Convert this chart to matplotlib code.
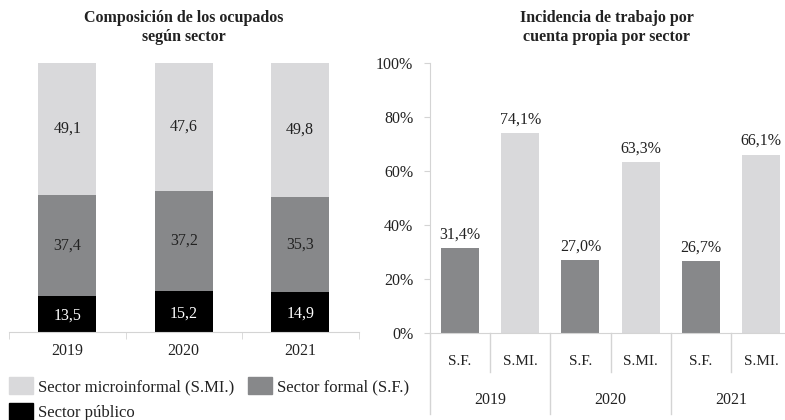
import matplotlib.pyplot as plt
import matplotlib.patches as mpatches
import matplotlib.transforms as mtransforms
import numpy as np

plt.rcParams['font.family'] = ['Liberation Serif', 'DejaVu Serif']
plt.rcParams['font.size'] = 11.5

# ── Datos ────────────────────────────────────
years = ['2019', '2020', '2021']
publico = [13.5, 15.2, 14.9]
formal = [37.4, 37.2, 35.3]
micro = [49.1, 47.6, 49.8]

sectors = ['S.F.', 'S.MI.']
incid_sf = [31.4, 27.0, 26.7]
incid_smi = [74.1, 63.3, 66.1]

C_MICRO = '#d9d9db'
C_FORMAL = '#87888a'
C_PUB = '#000000'
C_AXIS = '#d4d4d4'
C_TEXT = '#222222'
FS = 11.5

fig = plt.figure(figsize=(7.85, 4.2), dpi=100)

# ── Panel izquierdo: composición ────────────
ax1 = fig.add_axes([9/785, 88/420, 349.5/785, 269/420])
x = np.arange(len(years))
w = 0.5
ax1.bar(x, publico, w, color=C_PUB)
ax1.bar(x, formal, w, bottom=publico, color=C_FORMAL)
bot2 = np.array(publico) + np.array(formal)
ax1.bar(x, micro, w, bottom=bot2, color=C_MICRO)

for i in range(len(years)):
    ax1.text(x[i], publico[i] / 2 - 0.8, f'{publico[i]:.1f}'.replace('.', ','),
             ha='center', va='center', color='white', fontsize=FS)
    ax1.text(x[i], publico[i] + formal[i] / 2, f'{formal[i]:.1f}'.replace('.', ','),
             ha='center', va='center', color=C_TEXT, fontsize=FS)
    ax1.text(x[i], bot2[i] + micro[i] / 2, f'{micro[i]:.1f}'.replace('.', ','),
             ha='center', va='center', color=C_TEXT, fontsize=FS)

ax1.set_xlim(-0.5, 2.5)
ax1.set_ylim(0, 100)
for s in ['top', 'right', 'left']:
    ax1.spines[s].set_visible(False)
ax1.spines['bottom'].set_color(C_AXIS)
ax1.set_yticks([])
ax1.set_xticks(x)
ax1.set_xticklabels(years, color=C_TEXT, fontsize=FS)
ax1.tick_params(axis='x', which='major', length=0, pad=8)
ax1.set_xticks([-0.5, 0.5, 1.5, 2.5], minor=True)
ax1.tick_params(axis='x', which='minor', length=5, color=C_AXIS)
ax1.set_title('Composición de los ocupados\nsegún sector', fontsize=11.5,
              fontweight='bold', color=C_TEXT, pad=16, linespacing=1.25)

# ── Panel derecho: incidencia ───────────────
ax2 = fig.add_axes([430/785, 87/420, 361/785, 270/420])
pos_sf = np.arange(len(years)) * 2
pos_smi = pos_sf + 1
bw = 0.63
ax2.bar(pos_sf, np.array(incid_sf) / 100, bw, color=C_FORMAL)
ax2.bar(pos_smi, np.array(incid_smi) / 100, bw, color=C_MICRO)
for p, v in list(zip(pos_sf, incid_sf)) + list(zip(pos_smi, incid_smi)):
    ax2.annotate(f'{v:.1f}%'.replace('.', ','), (p, v / 100), xytext=(0, 4),
                 textcoords='offset points', ha='center', va='bottom',
                 color=C_TEXT, fontsize=FS)

ax2.set_xlim(-0.5, 5.5)
ax2.set_ylim(0, 1)
ax2.set_yticks(np.arange(0, 1.01, 0.2))
ax2.set_yticklabels([f'{int(round(t*100))}%' for t in np.arange(0, 1.01, 0.2)],
                    color=C_TEXT, fontsize=FS)
ax2.tick_params(axis='y', length=4, color=C_AXIS, pad=8)
ax2.set_xticks([])
for s in ['top', 'right']:
    ax2.spines[s].set_visible(False)
ax2.spines['left'].set_color(C_AXIS)
ax2.spines['bottom'].set_color(C_AXIS)

# etiquetas de dos niveles
trans = mtransforms.blended_transform_factory(ax2.transData, ax2.transAxes)
for g in range(len(years)):
    ax2.text(pos_sf[g], -0.105, sectors[0], transform=trans, ha='center', va='center',
             color=C_TEXT, fontsize=11)
    ax2.text(pos_smi[g], -0.105, sectors[1], transform=trans, ha='center', va='center',
             color=C_TEXT, fontsize=11)
    ax2.text(pos_sf[g] + 0.5, -0.25, years[g], transform=trans, ha='center', va='center',
             color=C_TEXT, fontsize=FS)
    ax2.plot([pos_sf[g] + 0.5] * 2, [0, -0.145], transform=trans, color=C_AXIS,
             lw=1, clip_on=False)
    ax2.plot([pos_sf[g] - 0.5] * 2, [0, -0.3], transform=trans, color=C_AXIS,
             lw=1, clip_on=False)

ax2.set_title('Incidencia de trabajo por\ncuenta propia por sector', fontsize=11.5,
              fontweight='bold', color=C_TEXT, pad=16, linespacing=1.25, x=0.49)

# ── Leyenda ──────────────────────────────────
h_micro = mpatches.Patch(color=C_MICRO, label='Sector microinformal (S.MI.)')
h_formal = mpatches.Patch(color=C_FORMAL, label='Sector formal (S.F.)')
h_pub = mpatches.Patch(color=C_PUB, label='Sector público')
fig.legend(handles=[h_micro, h_pub, h_formal], ncol=2, loc='upper left',
           bbox_to_anchor=(9/785, 1 - 377/420), frameon=False, fontsize=12,
           handlelength=1.45, handleheight=1.2, handletextpad=0.3,
           columnspacing=0.8, labelspacing=0.45, borderaxespad=0, borderpad=0,
           labelcolor=C_TEXT)

plt.savefig('out.png', dpi=100)
